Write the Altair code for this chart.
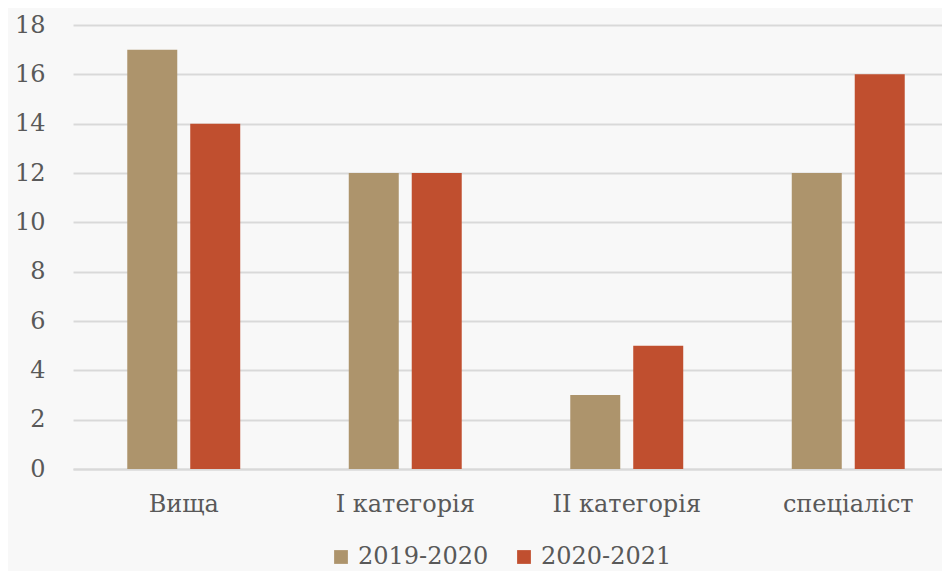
import altair as alt
import pandas as pd

categories = ["Вища", "І категорія", "ІІ категорія", "спеціаліст"]
series = ["2019-2020", "2020-2021"]
values_2019 = [17, 12, 3, 12]
values_2020 = [14, 12, 5, 16]
y_ticks = [0, 2, 4, 6, 8, 10, 12, 14, 16, 18]
colors = ["#ad946c", "#c04f2f"]

rows = []
for c, a, b in zip(categories, values_2019, values_2020):
    rows.append({"cat": c, "series": series[0], "value": a})
    rows.append({"cat": c, "series": series[1], "value": b})
df = pd.DataFrame(rows)

FONT = "DejaVu Serif"
TXT = "#595959"

chart = alt.Chart(df).mark_bar().encode(
    x=alt.X("cat:N", sort=categories, title=None,
            scale=alt.Scale(range=[0, 886], paddingInner=0.49, paddingOuter=0.245),
            axis=alt.Axis(labelAngle=0, labelFont=FONT, labelFontSize=24, labelColor=TXT,
                          labelPadding=23, ticks=False, domain=True, domainColor="#d9d9d9",
                          domainWidth=2, labelBaseline="top")),
    xOffset=alt.XOffset("series:N", sort=series,
                        scale=alt.Scale(paddingInner=0.206, paddingOuter=0)),
    y=alt.Y("value:Q", title=None,
            scale=alt.Scale(domain=[0, 18], nice=False),
            axis=alt.Axis(values=y_ticks, labelFont=FONT, labelFontSize=24, labelColor=TXT,
                          labelPadding=28, ticks=False, domain=False,
                          gridColor="#d9d9d9", gridWidth=2)),
    color=alt.Color("series:N", sort=series,
                    scale=alt.Scale(domain=series, range=colors),
                    legend=alt.Legend(title=None, orient="none", legendX=256, legendY=520,
                                      direction="horizontal", symbolType="square",
                                      symbolSize=190, symbolStrokeWidth=0,
                                      labelFont=FONT, labelFontSize=24, labelColor=TXT,
                                      labelOffset=5, columnPadding=23, padding=0)),
).properties(
    width=869, height=444,
    padding={"left": 65, "top": 17, "right": 0, "bottom": 102},
    autosize=alt.AutoSizeParams(type="none"),
    background="#f8f8f8",
).configure(font=FONT).configure_view(stroke=None)

chart.save("out.html", embed_options={"renderer": "svg", "actions": False})
